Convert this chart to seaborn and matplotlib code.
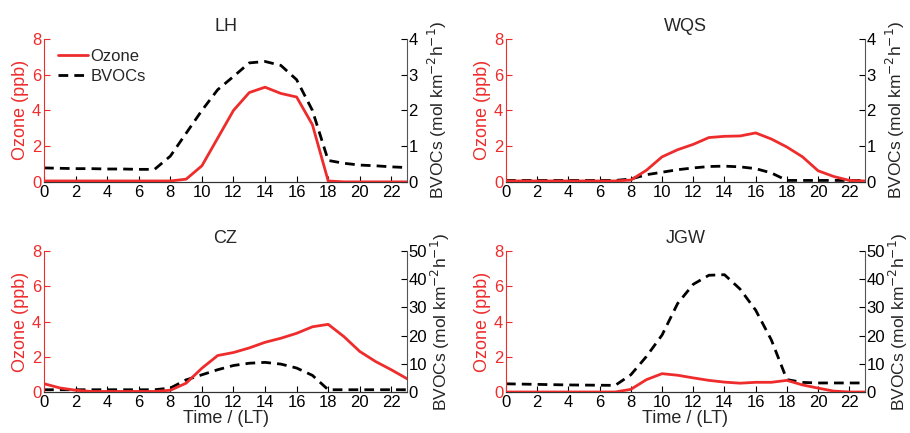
import numpy as np
import pandas as pd
import matplotlib
matplotlib.use("Agg")
import matplotlib.pyplot as plt
import seaborn as sns

# ──────────────────────────────────────────────
# Data (hourly, local time 0..23)
# ──────────────────────────────────────────────
HOURS = list(range(24))

LH_OZONE = [0.05, 0.05, 0.05, 0.05, 0.05, 0.05, 0.05, 0.05, 0.05, 0.15, 0.9, 2.45,
            4.0, 5.0, 5.3, 4.95, 4.75, 3.2, 0.05, 0.0, 0.0, 0.0, 0.0, 0.0]
LH_BVOC = [0.39, 0.38, 0.37, 0.37, 0.36, 0.36, 0.35, 0.35, 0.72, 1.36, 2.0, 2.58,
           2.95, 3.33, 3.37, 3.26, 2.86, 2.0, 0.6, 0.52, 0.47, 0.45, 0.42, 0.4]

WQS_OZONE = [0.05, 0.05, 0.05, 0.05, 0.05, 0.05, 0.05, 0.05, 0.1, 0.65, 1.4, 1.8,
             2.1, 2.48, 2.55, 2.57, 2.74, 2.4, 1.95, 1.4, 0.62, 0.3, 0.08, 0.05]
WQS_BVOC = [0.04, 0.04, 0.04, 0.04, 0.04, 0.04, 0.04, 0.04, 0.08, 0.2, 0.27, 0.34,
            0.39, 0.43, 0.44, 0.42, 0.37, 0.25, 0.04, 0.04, 0.04, 0.04, 0.04, 0.04]

CZ_OZONE = [0.47, 0.23, 0.1, 0.03, 0.03, 0.03, 0.03, 0.03, 0.1, 0.5, 1.35, 2.07,
            2.24, 2.5, 2.82, 3.05, 3.33, 3.7, 3.84, 3.14, 2.3, 1.73, 1.26, 0.75]
CZ_BVOC = [0.8, 0.8, 0.8, 0.8, 0.8, 0.8, 0.8, 0.8, 1.4, 4.3, 6.1, 7.9,
           9.4, 10.2, 10.5, 9.9, 8.5, 5.9, 0.8, 0.8, 0.8, 0.8, 0.8, 0.8]

JGW_OZONE = [0.0, 0.0, 0.0, 0.0, 0.0, 0.0, 0.0, 0.0, 0.15, 0.7, 1.04, 0.95,
             0.8, 0.66, 0.56, 0.5, 0.55, 0.55, 0.66, 0.4, 0.22, 0.05, 0.0, 0.0]
JGW_BVOC = [2.9, 2.8, 2.7, 2.6, 2.5, 2.45, 2.4, 2.35, 6.1, 12.6, 20.2, 31.4,
            38.2, 41.4, 41.6, 36.5, 29.0, 18.5, 4.4, 3.4, 3.2, 3.2, 3.2, 3.2]

SITES = ["LH", "WQS", "CZ", "JGW"]
OZONE = [LH_OZONE, WQS_OZONE, CZ_OZONE, JGW_OZONE]
BVOC = [LH_BVOC, WQS_BVOC, CZ_BVOC, JGW_BVOC]
BVOC_MAX = [4, 4, 50, 50]

RED = "#EE2C2C"

sns.set_style("ticks")
plt.rcParams["font.family"] = ["Liberation Sans", "DejaVu Sans"]
plt.rcParams["xtick.direction"] = "in"
plt.rcParams["ytick.direction"] = "in"

fig = plt.figure(figsize=(9.10, 4.33), dpi=100)

# axes boxes [left, bottom, width, height]
boxes = [
    [0.0484, 0.580, 0.399, 0.330],
    [0.556, 0.580, 0.3945, 0.330],
    [0.0484, 0.0947, 0.399, 0.3256],
    [0.556, 0.0947, 0.3945, 0.3256],
]

for i, site in enumerate(SITES):
    ax = fig.add_axes(boxes[i])
    ax2 = ax.twinx()
    df = pd.DataFrame({"hour": HOURS, "ozone": OZONE[i], "bvoc": BVOC[i]})

    sns.lineplot(data=df, x="hour", y="ozone", ax=ax, color=RED, lw=2,
                 label="Ozone", legend=False, zorder=3)
    sns.lineplot(data=df, x="hour", y="bvoc", ax=ax2, color="black", lw=2,
                 linestyle=(0, (3.5, 2.2)), label="BVOCs", legend=False)
    ax.set_zorder(ax2.get_zorder() + 1)
    ax.patch.set_visible(False)

    ax.set_xlim(0, 23)
    ax.set_ylim(0, 8)
    ax2.set_ylim(0, BVOC_MAX[i])
    ax.set_xticks(range(0, 23, 2))
    ax.set_yticks([0, 2, 4, 6, 8])
    if BVOC_MAX[i] == 4:
        ax2.set_yticks([0, 1, 2, 3, 4])
    else:
        ax2.set_yticks([0, 10, 20, 30, 40, 50])

    ax.tick_params(axis="x", labelsize=12, length=4, colors="black", pad=2)
    ax.tick_params(axis="y", labelsize=12, length=4, colors=RED, labelcolor=RED, pad=2)
    ax2.tick_params(axis="y", labelsize=12, length=4, colors="black", pad=1)

    for a in (ax, ax2):
        a.spines["top"].set_visible(False)
    ax.spines["left"].set_color(RED)
    ax.spines["right"].set_visible(False)
    ax2.spines["left"].set_visible(False)
    ax2.spines["right"].set_color("#555555")
    ax.spines["bottom"].set_color("#333333")

    ax.set_ylabel("Ozone (ppb)", color=RED, fontsize=13, labelpad=2)
    ax2.set_ylabel(r"BVOCs (mol km$^{-2}$h$^{-1}$)", fontsize=12.5)
    if BVOC_MAX[i] == 4:
        ax2.yaxis.set_label_coords(1.052, 0.5)
    else:
        ax2.yaxis.set_label_coords(1.06, 0.5)
    ax.set_title(site, fontsize=13, pad=6)
    if i >= 2:
        ax.set_xlabel("Time / (LT)", fontsize=13, labelpad=0)
    else:
        ax.set_xlabel("")

    if i == 0:
        h1, l1 = ax.get_legend_handles_labels()
        h2, l2 = ax2.get_legend_handles_labels()
        ax.legend(h1 + h2, l1 + l2, loc="upper left", frameon=False, fontsize=12,
                  handlelength=1.8, handletextpad=0.15, borderaxespad=0.2,
                  labelspacing=0.3, bbox_to_anchor=(0.01, 1.0))

fig.savefig("out.png", dpi=100)
